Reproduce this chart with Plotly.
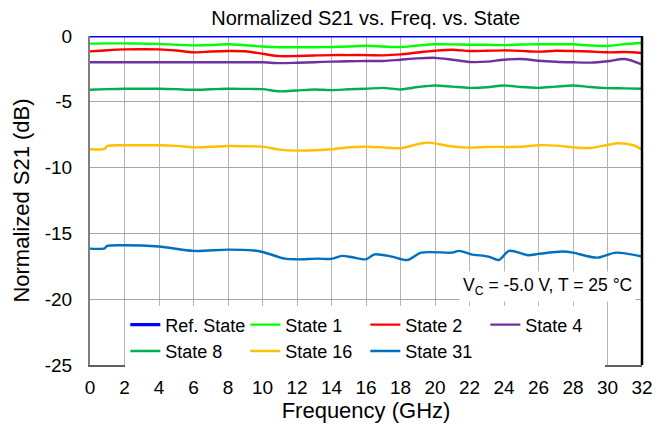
import plotly.graph_objects as go

# ---- data ----
freq = list(range(0, 33))
ref_state = [0.0] * 33
state_1 = [-0.58, -0.56, -0.56, -0.58, -0.60, -0.66, -0.71, -0.68, -0.63, -0.70, -0.80,
           -0.85, -0.86, -0.85, -0.84, -0.80, -0.74, -0.80, -0.84, -0.72, -0.63, -0.64,
           -0.66, -0.67, -0.69, -0.65, -0.63, -0.63, -0.63, -0.72, -0.76, -0.62, -0.53]
state_2 = [-1.17, -1.08, -1.02, -1.01, -1.02, -1.10, -1.24, -1.18, -1.14, -1.16, -1.35,
           -1.53, -1.52, -1.48, -1.45, -1.45, -1.45, -1.47, -1.40, -1.25, -1.12, -1.04,
           -1.14, -1.12, -1.09, -1.13, -1.19, -1.12, -1.14, -1.18, -1.24, -1.22, -1.29]
state_4 = [-2.00, -2.00, -2.00, -2.00, -2.00, -2.00, -2.00, -2.00, -2.00, -2.00, -2.00,
           -2.06, -2.03, -1.99, -1.95, -1.92, -1.90, -1.90, -1.80, -1.70, -1.66, -1.80,
           -1.97, -1.95, -1.80, -1.75, -1.88, -1.96, -2.00, -2.02, -1.92, -1.75, -2.16]
state_8 = [-4.09, -4.04, -4.01, -4.01, -4.01, -4.04, -4.09, -4.05, -4.01, -4.02, -4.04,
           -4.21, -4.14, -4.06, -4.11, -4.05, -4.01, -3.94, -4.06, -3.88, -3.76, -3.85,
           -3.94, -3.90, -3.76, -3.88, -3.94, -3.85, -3.76, -3.88, -3.96, -3.98, -4.01]
freq_16 = [0, 0.85, 1, 2, 3, 4, 5, 6, 7, 8, 9, 10, 11, 12, 13, 14, 15, 16, 17, 18, 19,
           19.6, 21, 22, 23, 24, 25, 26, 27, 28, 29, 30, 30.6, 31.5, 32]
state_16 = [-8.61, -8.58, -8.36, -8.30, -8.30, -8.30, -8.35, -8.46, -8.42, -8.36, -8.38,
            -8.41, -8.63, -8.71, -8.68, -8.61, -8.45, -8.41, -8.46, -8.53, -8.22, -8.10,
            -8.40, -8.48, -8.43, -8.43, -8.42, -8.30, -8.33, -8.46, -8.51, -8.28, -8.15,
            -8.30, -8.63]
freq_31 = [0, 0.85, 1.0, 2, 4, 6, 8, 9.5, 10, 11.3, 12, 13.2, 14, 14.6, 15.2, 16, 16.5,
           17.5, 18.4, 19.2, 21, 21.4, 22.1, 23.1, 23.7, 24.3, 25.4, 26, 27.4, 28, 29.4,
           30.5, 32]
state_31 = [-16.16, -16.13, -15.95, -15.90, -16.00, -16.33, -16.23, -16.30, -16.41,
            -16.92, -16.97, -16.92, -16.94, -16.71, -16.81, -16.97, -16.59, -16.76,
            -17.02, -16.46, -16.46, -16.33, -16.59, -16.76, -17.02, -16.33, -16.66,
            -16.56, -16.38, -16.46, -16.84, -16.46, -16.76]

series = [
    ("Ref. State", freq, ref_state, "#0000FF"),
    ("State 1", freq, state_1, "#00FF00"),
    ("State 2", freq, state_2, "#FF0000"),
    ("State 4", freq, state_4, "#7030A0"),
    ("State 8", freq, state_8, "#00B050"),
    ("State 16", freq_16, state_16, "#FFC000"),
    ("State 31", freq_31, state_31, "#0070C0"),
]

x_ticks = list(range(0, 33, 2))
y_ticks = [0, -5, -10, -15, -20, -25]

FONT = "Liberation Sans, Arial, sans-serif"

fig = go.Figure()
for name, xs, ys, color in series:
    fig.add_trace(go.Scatter(
        x=xs, y=ys, mode="lines", name=name,
        line=dict(color=color, width=3.2 if name == "Ref. State" else 2.4,
                  shape="spline", smoothing=0.8),
    ))

# the page adds an 8 px body margin, so the figure is 8 px smaller than the window
fig.update_layout(
    width=660, height=419,
    margin=dict(l=82, r=26, t=28, b=62, autoexpand=False),
    paper_bgcolor="white", plot_bgcolor="white",
    font=dict(family=FONT, color="black", size=17),
    title=dict(text="Normalized S21 vs. Freq. vs. State", x=0.542, xanchor="center",
               y=0.977, yanchor="middle", font=dict(size=20), automargin=False),
    showlegend=True,
    legend=dict(orientation="h", x=0.064, xanchor="left", y=0.178, yanchor="top",
                bgcolor="white", borderwidth=0, font=dict(size=18),
                entrywidth=75, entrywidthmode="pixels",
                itemwidth=30, traceorder="normal", tracegroupgap=0),
)
fig.update_xaxes(range=[0, 32], tickvals=x_ticks, ticktext=[str(v) for v in x_ticks],
                 automargin=False,
                 showgrid=True, gridcolor="#b4b4b4", gridwidth=1,
                 zeroline=False, showline=True, linecolor="#606060", linewidth=2,
                 ticks="", ticklabelstandoff=4, tickfont=dict(size=19),
                 title=dict(text="Frequency (GHz)", font=dict(size=22), standoff=3))
fig.update_yaxes(range=[-25, 0], tickvals=y_ticks, ticktext=[str(v) for v in y_ticks],
                 automargin=False,
                 showgrid=True, gridcolor="#a6a6a6", gridwidth=1,
                 zeroline=False, showline=True, linecolor="#7f7f7f", linewidth=2,
                 ticks="", ticklabelstandoff=12, tickfont=dict(size=19),
                 title=dict(text="Normalized S21 (dB)", font=dict(size=22), standoff=9))

# right frame edge (black)
fig.add_shape(type="line", xref="paper", yref="paper", x0=1, x1=1, y0=0, y1=1,
              line=dict(color="black", width=2.5))

fig.add_annotation(text="V<sub>C</sub> = -5.0 V, T = 25 °C", xref="paper", yref="paper",
                   x=0.99, y=0.24, xanchor="right", yanchor="middle", showarrow=False,
                   bgcolor="white", font=dict(size=17.5), borderpad=3)

fig.write_html("out.html")
